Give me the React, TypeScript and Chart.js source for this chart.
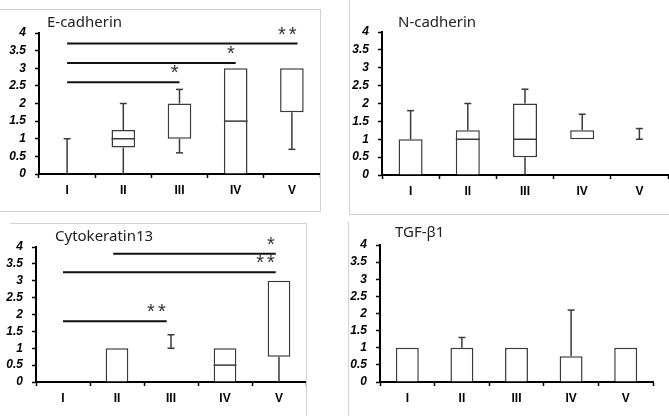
import React, { useEffect, useRef } from 'react';
import { Chart, registerables } from 'chart.js';

Chart.register(...registerables);

const categories = ['I', 'II', 'III', 'IV', 'V'];
const yMin = 0;
const yMax = 4;
const yStep = 0.5;

// E-cadherin
const eCadMin = [0, 0, 0.6, 0, 0.7];
const eCadQ1 = [0, 0.75, 1, 0, 1.75];
const eCadMedian = [0, 1, 1, 1.5, 3];
const eCadQ3 = [0, 1.25, 2, 3, 3];
const eCadMax = [1, 2, 2.4, 3, 3];
const eCadSigFrom = [0, 0, 0];
const eCadSigTo = [2, 3, 4.1];
const eCadSigY = [2.6, 3.15, 3.7];
const eCadSigLabel = ['*', '*', '**'];

// N-cadherin
const nCadMin = [0, 0, 0, 1, 1];
const nCadQ1 = [0, 0, 0.5, 1, 1];
const nCadMedian = [1, 1, 1, 1, 1];
const nCadQ3 = [1, 1.25, 2, 1.25, 1];
const nCadMax = [1.8, 2, 2.4, 1.7, 1.3];

// Cytokeratin13
const ck13Min = [0, 0, 1, 0, 0];
const ck13Q1 = [0, 0, 1, 0, 0.75];
const ck13Median = [0, 1, 1, 0.5, 3];
const ck13Q3 = [0, 1, 1, 1, 3];
const ck13Max = [0, 1, 1.4, 1, 3];
const ck13SigFrom = [0.93, 0, 0];
const ck13SigTo = [3.94, 3.94, 1.92];
const ck13SigY = [3.8, 3.25, 1.8];
const ck13SigLabel = ['*', '**', '**'];

// TGF-β1
const tgfMin = [0, 0, 0, 0, 0];
const tgfQ1 = [0, 0, 0, 0, 0];
const tgfMedian = [1, 1, 1, 0.75, 1];
const tgfQ3 = [1, 1, 1, 0.75, 1];
const tgfMax = [1, 1.3, 1, 2.1, 1];

type Stats = { min: number[]; q1: number[]; med: number[]; q3: number[]; max: number[] };
type Sig = { from: number[]; to: number[]; y: number[]; label: string[] };
type Geo = {
  left: number; top: number; width: number; height: number;
  yAxisWidth: number; xAxisHeight: number; padTop: number; padRight: number;
  titleDx: number; titleDy: number;
};

const BOX_PCT = 0.42;
const LINE_COLOR = '#3a3a3a';
const TICK_FAMILY = 'Arial, "Liberation Sans", Helvetica, sans-serif';

function Panel({ title, stats, sig, geo }: { title: string; stats: Stats; sig?: Sig; geo: Geo }) {
  const ref = useRef<HTMLCanvasElement | null>(null);
  useEffect(() => {
    if (!ref.current) return;
    const boxes = categories.map((_, i) => (stats.q3[i] > stats.q1[i] ? [stats.q1[i], stats.q3[i]] : null));
    const extras = {
      id: 'boxExtras',
      afterDatasetsDraw(chart: any) {
        const { ctx } = chart;
        const xs = chart.scales.x;
        const ys = chart.scales.y;
        const catW = xs.width / categories.length;
        const hw = (catW * BOX_PCT) / 2;
        const cap = 3.5;
        ctx.save();
        ctx.strokeStyle = LINE_COLOR;
        ctx.lineWidth = 1.5;
        const hline = (cx: number, v: number, h: number) => {
          const py = ys.getPixelForValue(v);
          ctx.beginPath();
          ctx.moveTo(cx - h, py);
          ctx.lineTo(cx + h, py);
          ctx.stroke();
        };
        const vline = (cx: number, a: number, b: number) => {
          ctx.beginPath();
          ctx.moveTo(cx, ys.getPixelForValue(a));
          ctx.lineTo(cx, ys.getPixelForValue(b));
          ctx.stroke();
        };
        categories.forEach((_, i) => {
          const cx = xs.getPixelForValue(i);
          const { min, q1, med, q3, max } = stats;
          if (max[i] > q3[i]) {
            vline(cx, q3[i], max[i]);
            hline(cx, max[i], cap);
          }
          if (min[i] < q1[i]) {
            vline(cx, min[i], q1[i]);
            if (min[i] > yMin) hline(cx, min[i], cap);
          }
          if (q3[i] > q1[i]) {
            if (med[i] > q1[i] && med[i] < q3[i]) hline(cx, med[i], hw);
          } else if (q1[i] > yMin) {
            hline(cx, q1[i], cap);
          }
        });
        if (sig) {
          ctx.strokeStyle = '#111';
          ctx.lineWidth = 2;
          ctx.fillStyle = '#333';
          ctx.font = '20px Arial, "Liberation Sans", sans-serif';
          ctx.textAlign = 'right';
          ctx.textBaseline = 'alphabetic';
          sig.from.forEach((f, k) => {
            const x0 = xs.getPixelForValue(f);
            const x1 = xs.getPixelForValue(sig.to[k]);
            const py = ys.getPixelForValue(sig.y[k]);
            ctx.beginPath();
            ctx.moveTo(x0, py);
            ctx.lineTo(x1, py);
            ctx.stroke();
            const lab = sig.label[k];
            if (lab.length > 1) {
              (ctx as any).letterSpacing = '3px';
              ctx.fillText(lab, x1 + 2, py - 3);
              (ctx as any).letterSpacing = '0px';
            } else {
              ctx.fillText(lab, x1 - 1, py - 3);
            }
          });
        }
        ctx.restore();
      },
      afterDraw(chart: any) {
        const { ctx, chartArea } = chart;
        ctx.save();
        ctx.fillStyle = '#222';
        ctx.font = '15px "Noto Sans", Arial, sans-serif';
        ctx.textAlign = 'left';
        ctx.textBaseline = 'middle';
        ctx.fillText(title, chartArea.left + geo.titleDx, chartArea.top + geo.titleDy);
        ctx.restore();
      },
    };
    const chart = new Chart(ref.current, {
      type: 'bar',
      data: {
        labels: categories,
        datasets: [
          {
            data: boxes as any,
            backgroundColor: '#ffffff',
            borderColor: LINE_COLOR,
            borderWidth: 1.5,
            borderSkipped: ((c: any) => {
              const b = boxes[c.dataIndex];
              return b && b[0] === yMin ? 'start' : false;
            }) as any,
            barPercentage: BOX_PCT,
            categoryPercentage: 1,
          },
        ],
      },
      options: {
        animation: false,
        responsive: false,
        events: [],
        layout: { padding: { top: geo.padTop, right: geo.padRight, left: 0, bottom: 0 } },
        plugins: { legend: { display: false }, tooltip: { enabled: false }, title: { display: false } },
        scales: {
          x: {
            type: 'category',
            z: 1,
            offset: true,
            afterFit: (s: any) => { s.height = geo.xAxisHeight; },
            grid: { offset: true, drawOnChartArea: false, drawTicks: true, tickLength: 4, tickColor: '#000', tickWidth: 1.5 },
            border: { display: true, color: '#000', width: 2 },
            ticks: { color: '#000', padding: 5, font: { family: TICK_FAMILY, size: 12, weight: 'bold' } },
          },
          y: {
            type: 'linear',
            z: 1,
            min: yMin,
            max: yMax,
            afterFit: (s: any) => { s.width = geo.yAxisWidth; },
            grid: { drawOnChartArea: false, drawTicks: true, tickLength: 4, tickColor: '#000', tickWidth: 1.5 },
            border: { display: true, color: '#000', width: 2 },
            ticks: {
              stepSize: yStep,
              autoSkip: false,
              color: '#000',
              padding: 9,
              callback: (v: any) => String(v),
              font: { family: TICK_FAMILY, size: 12, weight: 'bold', style: 'italic' },
            },
          },
        },
      },
      plugins: [extras as any],
    });
    return () => chart.destroy();
  }, []);
  return (
    <canvas
      ref={ref}
      width={geo.width}
      height={geo.height}
      style={{ position: 'absolute', left: geo.left, top: geo.top, width: geo.width, height: geo.height }}
    />
  );
}

const BORDER = '1px solid #d2d2d2';

export default function App() {
  return (
    <div style={{ position: 'absolute', left: 0, top: 0, width: 669, height: 416, background: '#fff', overflow: 'hidden' }}>
      <div style={{ position: 'absolute', left: -1, top: 9, width: 322, height: 203, boxSizing: 'border-box', borderTop: BORDER, borderRight: BORDER, borderBottom: BORDER }} />
      <div style={{ position: 'absolute', left: 349, top: -1, width: 321, height: 216, boxSizing: 'border-box', borderLeft: BORDER, borderBottom: BORDER }} />
      <div style={{ position: 'absolute', left: 10, top: 223, width: 297, height: 200, boxSizing: 'border-box', borderTop: BORDER, borderRight: BORDER }} />
      <div style={{ position: 'absolute', left: 348, top: 222, width: 330, height: 200, boxSizing: 'border-box', borderLeft: BORDER }} />
      <Panel
        title="E-cadherin"
        stats={{ min: eCadMin, q1: eCadQ1, med: eCadMedian, q3: eCadQ3, max: eCadMax }}
        sig={{ from: eCadSigFrom, to: eCadSigTo, y: eCadSigY, label: eCadSigLabel }}
        geo={{ left: 0, top: 10, width: 320, height: 200, yAxisWidth: 39, xAxisHeight: 36, padTop: 23, padRight: 0, titleDx: 8, titleDy: -10 }}
      />
      <Panel
        title="N-cadherin"
        stats={{ min: nCadMin, q1: nCadQ1, med: nCadMedian, q3: nCadQ3, max: nCadMax }}
        geo={{ left: 350, top: 10, width: 319, height: 200, yAxisWidth: 32, xAxisHeight: 35, padTop: 22, padRight: 1, titleDx: 16, titleDy: -9 }}
      />
      <Panel
        title="Cytokeratin13"
        stats={{ min: ck13Min, q1: ck13Q1, med: ck13Median, q3: ck13Q3, max: ck13Max }}
        sig={{ from: ck13SigFrom, to: ck13SigTo, y: ck13SigY, label: ck13SigLabel }}
        geo={{ left: 0, top: 224, width: 306, height: 192, yAxisWidth: 36, xAxisHeight: 34, padTop: 23, padRight: 0, titleDx: 19, titleDy: -10 }}
      />
      <Panel
        title="TGF-β1"
        stats={{ min: tgfMin, q1: tgfQ1, med: tgfMedian, q3: tgfQ3, max: tgfMax }}
        geo={{ left: 349, top: 224, width: 320, height: 192, yAxisWidth: 31, xAxisHeight: 34, padTop: 21, padRight: 16, titleDx: 15, titleDy: -12 }}
      />
    </div>
  );
}
